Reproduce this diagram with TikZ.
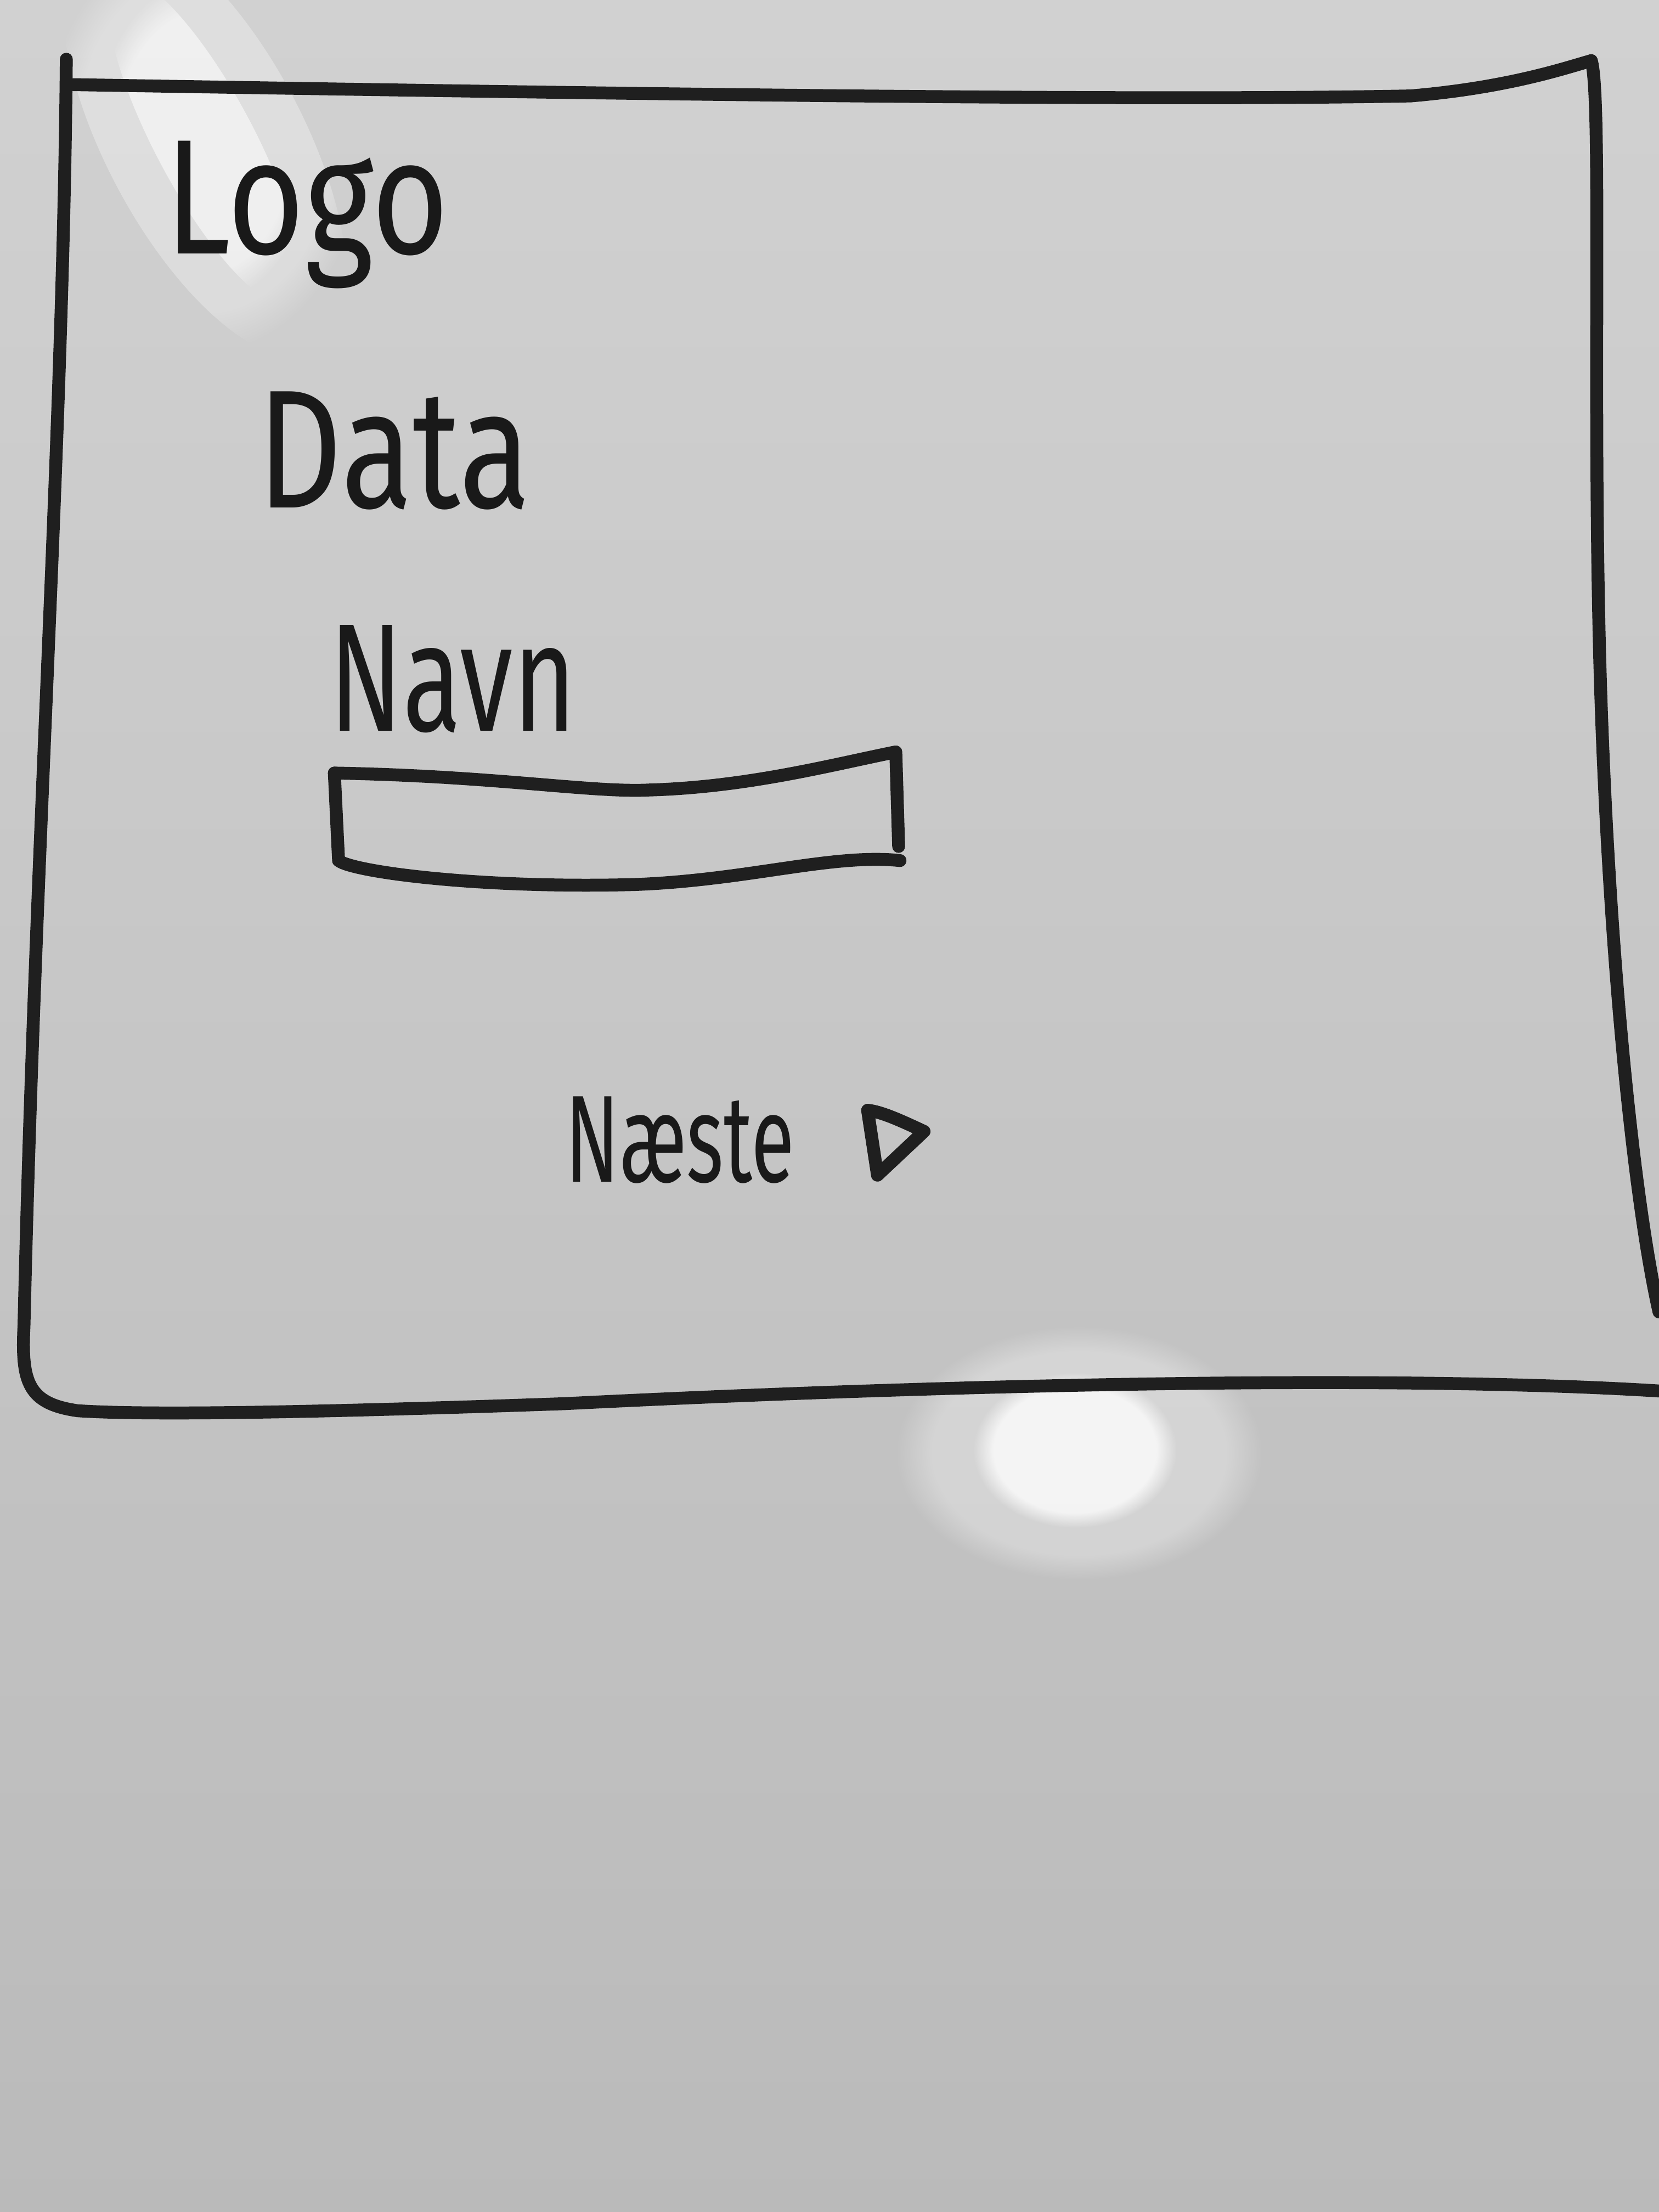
\documentclass[tikz,border=0pt]{standalone}
\usepackage{fontspec}
\setmainfont{Fira Sans}
\usetikzlibrary{fadings}
\begin{document}
\begin{tikzpicture}[x=1cm,y=-1cm,
  marker/.style={line width=2.6pt, line cap=round, line join=round, draw=black!88},
  hand/.style={anchor=base west, inner sep=0pt, text=black!90},
  glare/.style={fill=white, path fading=circle with fuzzy edge 20 percent}]
\useasboundingbox (0,0) rectangle (11.76,15.68);
\shade[top color=black!18, bottom color=black!27] (0,0) rectangle (11.76,15.68);
% glare, upper left streak
\fill[glare, opacity=0.55, rotate around={28:(1.45,1.0)}] (1.45,1.0) ellipse (0.35 and 1.3);
\fill[glare, opacity=0.3, rotate around={28:(1.45,1.0)}] (1.45,1.0) ellipse (0.7 and 1.7);
% glare, bright spot under the frame
\fill[glare, opacity=0.3] (7.65,10.3) ellipse (1.3 and 0.9);
\fill[glare, opacity=0.75] (7.62,10.28) ellipse (0.72 and 0.55);
% outer frame
\draw[marker] (0.47,0.42) .. controls (0.45,3.0) and (0.25,6.0) .. (0.17,9.4)
  .. controls (0.15,9.8) and (0.2,9.95) .. (0.55,10.0)
  .. controls (1.0,10.03) and (2.0,10.02) .. (4.0,9.95)
  .. controls (7.0,9.8) and (10.0,9.75) .. (11.76,9.86);
\draw[marker] (0.52,0.6) .. controls (4.0,0.66) and (8.0,0.72) .. (10.0,0.68)
  .. controls (10.7,0.62) and (11.1,0.48) .. (11.28,0.43);
\draw[marker] (11.28,0.43) .. controls (11.36,0.7) and (11.28,3.0) .. (11.35,5.0)
  .. controls (11.42,7.0) and (11.6,8.6) .. (11.76,9.3);
% labels
\node[hand, font=\fontsize{33}{40}\selectfont] (logo) at (1.16,1.8) {\scalebox{0.81}[1]{Logo}};
\node[hand, font=\fontsize{34}{40}\selectfont] (data) at (1.82,3.6) {\scalebox{0.78}[1]{Data}};
\node[hand, font=\fontsize{31}{38}\selectfont] (navn) at (2.33,5.18) {\scalebox{0.70}[1]{Navn}};
\node[hand, font=\fontsize{25}{30}\selectfont] (naeste) at (4.0,8.38) {\scalebox{0.64}[1]{Næste}};
% input field
\draw[marker] (2.37,5.48) .. controls (3.5,5.5) and (4.2,5.62) .. (4.6,5.6)
  .. controls (5.3,5.58) and (5.9,5.42) .. (6.35,5.33) -- (6.37,6.0);
\draw[marker] (2.37,5.48) -- (2.4,6.1) .. controls (2.5,6.18) and (3.4,6.3) .. (4.5,6.27)
  .. controls (5.3,6.24) and (5.9,6.05) .. (6.38,6.1);
% next arrow triangle
\draw[marker] (6.15,7.87) -- (6.22,8.33) -- (6.55,8.02) .. controls (6.4,7.95) and (6.25,7.88) .. (6.15,7.87);
\end{tikzpicture}
\end{document}
